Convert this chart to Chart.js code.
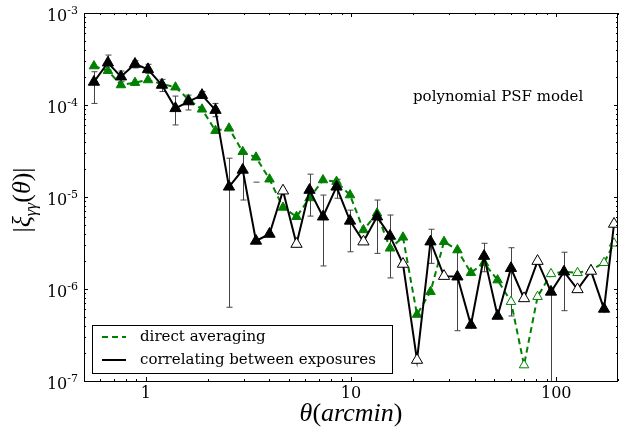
<!DOCTYPE html>
<html>
<head>
<meta charset="utf-8">
<script src="https://cdn.jsdelivr.net/npm/chart.js@4"></script>
<style>
  html, body { margin: 0; padding: 0; background: #fff; }
  #wrap { width: 619px; height: 435px; }
</style>
</head>
<body>
<div id="wrap"><canvas id="chart" width="619" height="435"></canvas></div>
<script>
// angular bins (arcmin)
const theta = [0.559, 0.654, 0.757, 0.886, 1.025, 1.199, 1.395, 1.614, 1.879, 2.186,
  2.544, 2.967, 3.444, 4.008, 4.663, 5.426, 6.278, 7.304, 8.50, 9.89,
  11.5, 13.39, 15.49, 17.92, 20.97, 24.4, 28.4, 33.0, 38.4, 44.5,
  51.8, 60.2, 69.7, 81.1, 94.3, 109.1, 127.0, 147.7, 171.0, 191.3];

// |xi| from direct averaging
const directAveraging = [2.65e-4, 2.36e-4, 1.65e-4, 1.75e-4, 1.87e-4, 1.69e-4, 1.56e-4, 1.15e-4, 8.98e-5, 5.26e-5,
  5.58e-5, 3.1e-5, 2.7e-5, 1.56e-5, 7.7e-6, 6.1e-6, 9.75e-6, 1.53e-5, 1.47e-5, 1.05e-5,
  4.38e-6, 6.65e-6, 2.77e-6, 3.65e-6, 5.28e-7, 9.35e-7, 3.27e-6, 2.65e-6, 1.5e-6, 1.92e-6,
  1.25e-6, 7.28e-7, 1.49e-7, 8.25e-7, 1.46e-6, 1.54e-6, 1.5e-6, 1.61e-6, 1.93e-6, 3.14e-6];

// |xi| from correlating between exposures
const correlating = [1.78e-4, 2.88e-4, 2.03e-4, 2.79e-4, 2.44e-4, 1.65e-4, 9.2e-5, 1.09e-4, 1.28e-4, 8.8e-5,
  1.29e-5, 1.97e-5, 3.33e-6, 3.96e-6, 1.17e-5, 3.08e-6, 1.19e-5, 6.1e-6, 1.29e-5, 5.5e-6,
  3.27e-6, 6.1e-6, 3.77e-6, 1.87e-6, 1.69e-7, 3.27e-6, 1.38e-6, 1.36e-6, 4.06e-7, 2.28e-6,
  5.09e-7, 1.68e-6, 7.9e-7, 2.01e-6, 9.3e-7, 1.54e-6, 9.9e-7, 1.57e-6, 6.07e-7, 5.09e-6];

// error bar ends for the exposure correlation (null = not drawn)
const errHigh = [2.30e-4, 3.49e-4, 2.34e-4, 3.03e-4, 2.77e-4, 1.90e-4, 1.25e-4, 1.28e-4, 1.40e-4, 1.04e-4,
  2.64e-5, 3.1e-5, 1.45e-5, null, null, null, 1.77e-5, 1.05e-5, 1.56e-5, 7.2e-6,
  null, 9.27e-6, 6.37e-6, null, null, 4.46e-6, null, 2.54e-6, null, 3.14e-6,
  null, 2.81e-6, null, null, 1.0e-6, 2.51e-6, null, null, null, null];
const errLow = [1.04e-4, 2.40e-4, 1.79e-4, 2.53e-4, 2.21e-4, 1.40e-4, 6.07e-5, 8.83e-5, 1.18e-4, 7.46e-5,
  6.33e-7, 9.27e-6, null, null, null, null, 6.2e-6, 1.78e-6, 9.7e-6, 2.54e-6,
  null, 2.44e-6, 1.32e-6, null, null, 1.90e-6, null, 3.52e-7, null, 1.54e-6,
  null, 5.09e-7, null, null, 1e-9, 5.81e-7, null, null, null, null];

// open markers mark negative values
const directOpen = [0,0,0,0,0,0,0,0,0,0, 0,0,0,0,0,0,0,0,0,0, 0,0,0,0,0,0,0,0,0,0, 0,1,1,1,1,1,1,1,1,1];
const correlOpen = [0,0,0,0,0,0,0,0,0,0, 0,0,0,0,1,1,0,0,0,0, 1,0,0,1,1,0,1,0,0,0, 0,0,1,1,0,0,1,1,0,1];

const xTickLabels = ["1", "10", "100"];
const yTickExponents = ["-7", "-6", "-5", "-4", "-3"];

const GREEN = "#008000";
const SERIF = "'DejaVu Serif', serif";
const MATH = "'Liberation Serif', 'DejaVu Serif', serif";

function logTicks(min, max) {
  const out = [];
  for (let k = Math.floor(Math.log10(min)); k <= Math.ceil(Math.log10(max)); k++) {
    for (let m = 1; m < 10; m++) {
      const v = m * Math.pow(10, k);
      if (v >= min * 0.9999 && v <= max * 1.0001) out.push({ v, major: m === 1 });
    }
  }
  return out;
}

function drawSegments(ctx, parts, x, y) {
  // parts: [text, font, dy]
  let cx = x;
  parts.forEach(([t, f, dy]) => {
    ctx.font = f;
    ctx.fillText(t, cx, y + (dy || 0));
    cx += ctx.measureText(t).width;
  });
}
function segWidth(ctx, parts) {
  let w = 0;
  parts.forEach(([t, f]) => { ctx.font = f; w += ctx.measureText(t).width; });
  return w;
}

const decorations = {
  id: "decorations",
  beforeDatasetsDraw(chart) {
    const { ctx, chartArea: a, scales: { x, y } } = chart;
    ctx.save();
    ctx.strokeStyle = "#444";
    ctx.lineWidth = 1;
    theta.forEach((t, i) => {
      const px = Math.round(x.getPixelForValue(t)) + 0.5;
      const hi = errHigh[i], lo = errLow[i];
      if (hi == null) return;
      const yh = y.getPixelForValue(hi);
      if (lo != null) {
        const yl = Math.min(y.getPixelForValue(lo), a.bottom);
        ctx.beginPath(); ctx.moveTo(px, yh); ctx.lineTo(px, yl); ctx.stroke();
        if (yl < a.bottom) { ctx.beginPath(); ctx.moveTo(px - 3, yl); ctx.lineTo(px + 3, yl); ctx.stroke(); }
      }
      ctx.beginPath(); ctx.moveTo(px - 3, yh); ctx.lineTo(px + 3, yh); ctx.stroke();
    });
    ctx.restore();
  },
  afterDraw(chart) {
    const { ctx, chartArea: a, scales: { x, y } } = chart;
    ctx.save();
    // frame
    ctx.strokeStyle = "#000";
    ctx.lineWidth = 1;
    ctx.strokeRect(a.left + 0.5, a.top + 0.5, a.right - a.left - 1, a.bottom - a.top);

    // ticks, inward on all sides
    logTicks(x.min, x.max).forEach(({ v, major }) => {
      const px = Math.round(x.getPixelForValue(v)) + 0.5;
      const len = major ? 4 : 2;
      ctx.beginPath();
      ctx.moveTo(px, a.bottom); ctx.lineTo(px, a.bottom - len);
      ctx.moveTo(px, a.top); ctx.lineTo(px, a.top + len);
      ctx.stroke();
    });
    logTicks(y.min, y.max).forEach(({ v, major }) => {
      const py = Math.round(y.getPixelForValue(v)) + 0.5;
      const len = major ? 4 : 2;
      ctx.beginPath();
      ctx.moveTo(a.left, py); ctx.lineTo(a.left + len, py);
      ctx.moveTo(a.right, py); ctx.lineTo(a.right - len, py);
      ctx.stroke();
    });

    ctx.fillStyle = "#000";
    // x tick labels
    ctx.font = "16px " + SERIF;
    ctx.textAlign = "center";
    ctx.textBaseline = "top";
    [1, 10, 100].forEach((v, i) => {
      ctx.fillText(xTickLabels[i], x.getPixelForValue(v), a.bottom + 5);
    });

    // y tick labels 10^k
    ctx.textAlign = "left";
    ctx.textBaseline = "alphabetic";
    [1e-7, 1e-6, 1e-5, 1e-4, 1e-3].forEach((v, i) => {
      const py = y.getPixelForValue(v);
      const parts = [["10", "16px " + SERIF, 0], [yTickExponents[i], "11px " + SERIF, -7]];
      const w = segWidth(ctx, parts);
      drawSegments(ctx, parts, a.left - 6 - w, py + 8);
    });

    // x axis title
    const xt = [["θ", "italic 26px " + MATH], ["(", "26px " + MATH], ["arcmin", "italic 26px " + MATH], [")", "26px " + MATH]];
    const xw = segWidth(ctx, xt);
    drawSegments(ctx, xt, 351 - xw / 2, 421);

    // y axis title
    ctx.save();
    ctx.translate(30, 200);
    ctx.rotate(-Math.PI / 2);
    const yt = [["|", "26px " + MATH], ["ξ", "italic 26px " + MATH], ["γγ", "italic 17px " + MATH, 6], ["(", "26px " + MATH], ["θ", "italic 26px " + MATH], [")|", "26px " + MATH]];
    const yw = segWidth(ctx, yt);
    drawSegments(ctx, yt, -yw / 2, 0);
    ctx.restore();

    // annotation
    ctx.font = "15px " + SERIF;
    ctx.textBaseline = "middle";
    ctx.fillText("polynomial PSF model", 413, 97);

    // legend
    ctx.fillStyle = "#fff";
    ctx.fillRect(92, 325, 300, 48);
    ctx.strokeStyle = "#000";
    ctx.lineWidth = 1;
    ctx.strokeRect(92.5, 325.5, 300, 48);
    ctx.lineWidth = 2;
    ctx.strokeStyle = GREEN;
    ctx.setLineDash([6, 4]);
    ctx.beginPath(); ctx.moveTo(102, 337); ctx.lineTo(126, 337); ctx.stroke();
    ctx.setLineDash([]);
    ctx.strokeStyle = "#000";
    ctx.beginPath(); ctx.moveTo(102, 360); ctx.lineTo(126, 360); ctx.stroke();
    ctx.fillStyle = "#000";
    ctx.font = "15px " + SERIF;
    ctx.fillText("direct averaging", 140, 337);
    ctx.fillText("correlating between exposures", 140, 360);
    ctx.restore();
  }
};

new Chart(document.getElementById("chart"), {
  type: "line",
  data: {
    datasets: [
      {
        label: "direct averaging",
        data: theta.map((t, i) => ({ x: t, y: directAveraging[i] })),
        borderColor: GREEN,
        borderWidth: 2,
        borderDash: [6, 4],
        pointStyle: "triangle",
        pointRadius: 5.5,
        pointBorderWidth: 1,
        pointBorderColor: GREEN,
        pointBackgroundColor: directOpen.map(o => o ? "#fff" : GREEN),
        order: 2
      },
      {
        label: "correlating between exposures",
        data: theta.map((t, i) => ({ x: t, y: correlating[i] })),
        borderColor: "#000",
        borderWidth: 2,
        pointStyle: "triangle",
        pointRadius: 6.5,
        pointBorderWidth: 1,
        pointBorderColor: "#000",
        pointBackgroundColor: correlOpen.map(o => o ? "#fff" : "#000"),
        order: 1
      }
    ]
  },
  options: {
    responsive: false,
    animation: false,
    devicePixelRatio: 1,
    layout: { autoPadding: false, padding: { left: 84, top: 13, right: 1, bottom: 54 } },
    plugins: { legend: { display: false }, tooltip: { enabled: false } },
    scales: {
      x: { type: "logarithmic", min: 0.5, max: 200, display: false },
      y: { type: "logarithmic", min: 1e-7, max: 1e-3, display: false }
    }
  },
  plugins: [decorations]
});
</script>
</body>
</html>
